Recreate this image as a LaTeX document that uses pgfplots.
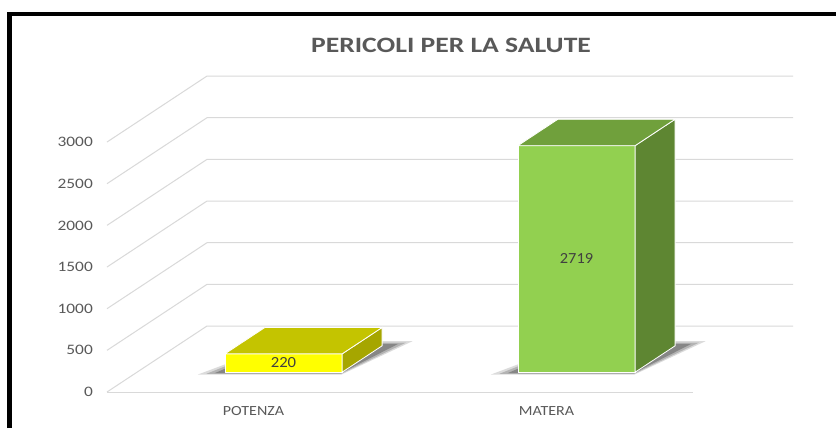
\documentclass[border=0pt]{standalone}
\usepackage{fontspec}
\setmainfont{Carlito}
\usepackage{graphicx}
\usepackage{pgfplots}
\pgfplotsset{compat=1.18}
\definecolor{gridc}{HTML}{D9D9D9}
\definecolor{tickc}{HTML}{595959}
\definecolor{datac}{HTML}{404040}
\definecolor{yfront}{HTML}{FFFF00}
\definecolor{ytop}{HTML}{C4C400}
\definecolor{yside}{HTML}{A6A600}
\definecolor{gfront}{HTML}{92D050}
\definecolor{gtop}{HTML}{70A03C}
\definecolor{gside}{HTML}{5E8632}
\begin{document}
\begin{tikzpicture}[x=1bp,y=1bp]
\useasboundingbox (0,0) rectangle (836,428);
\fill[white] (0,0) rectangle (836,428);
\begin{axis}[
  anchor=origin, at={(107bp,36bp)},
  x={(293bp,0bp)}, y={(100bp,66bp)}, z={(0bp,0.0833333bp)},
  xmin=0,xmax=2,ymin=0,ymax=1,zmin=0,zmax=3000,
  hide axis, clip=false,
  every axis plot/.append style={mark=none},
]
% grid (side wall + back wall)
\pgfplotsinvokeforeach{0,500,1000,1500,2000,2500,3000}{
  \addplot3[gridc, line width=1bp] coordinates {(0,0,#1) (0,1,#1) (2,1,#1)};
  \node[anchor=east, inner sep=0pt, text=tickc, font=\fontsize{14.5}{16}\selectfont, xshift=-14bp] at (axis cs:0,0,#1) {\scalebox{1.2}[1]{#1}};
}
% front floor line
\addplot3[gridc, line width=1bp] coordinates {(0,0,0) (2,0,0)};
% shadows (soft, layered)
\addplot3[fill=black, fill opacity=0.14, draw=none] coordinates {(0.22,0.265,0) (0.71,0.265,0) (0.78,0.77,0) (0.35,0.77,0)} -- cycle;
\addplot3[fill=black, fill opacity=0.18, draw=none] coordinates {(0.245,0.275,0) (0.705,0.275,0) (0.765,0.75,0) (0.35,0.75,0)} -- cycle;
\addplot3[fill=black, fill opacity=0.25, draw=none] coordinates {(0.27,0.285,0) (0.70,0.285,0) (0.745,0.73,0) (0.35,0.73,0)} -- cycle;
\addplot3[fill=black, fill opacity=0.14, draw=none] coordinates {(1.22,0.265,0) (1.71,0.265,0) (1.78,0.77,0) (1.35,0.77,0)} -- cycle;
\addplot3[fill=black, fill opacity=0.18, draw=none] coordinates {(1.245,0.275,0) (1.705,0.275,0) (1.765,0.75,0) (1.35,0.75,0)} -- cycle;
\addplot3[fill=black, fill opacity=0.25, draw=none] coordinates {(1.27,0.285,0) (1.70,0.285,0) (1.745,0.73,0) (1.35,0.73,0)} -- cycle;
% POTENZA = 220
\addplot3[fill=yfront, draw=white, line width=0.8bp] coordinates {(0.3,0.3,0) (0.7,0.3,0) (0.7,0.3,220) (0.3,0.3,220)} -- cycle;
\addplot3[fill=yside, draw=white, line width=0.8bp] coordinates {(0.7,0.3,0) (0.7,0.7,0) (0.7,0.7,220) (0.7,0.3,220)} -- cycle;
\addplot3[fill=ytop, draw=white, line width=0.8bp] coordinates {(0.3,0.3,220) (0.7,0.3,220) (0.7,0.7,220) (0.3,0.7,220)} -- cycle;
% MATERA = 2719
\addplot3[fill=gfront, draw=white, line width=0.8bp] coordinates {(1.3,0.3,0) (1.7,0.3,0) (1.7,0.3,2719) (1.3,0.3,2719)} -- cycle;
\addplot3[fill=gside, draw=white, line width=0.8bp] coordinates {(1.7,0.3,0) (1.7,0.7,0) (1.7,0.7,2719) (1.7,0.3,2719)} -- cycle;
\addplot3[fill=gtop, draw=white, line width=0.8bp] coordinates {(1.3,0.3,2719) (1.7,0.3,2719) (1.7,0.7,2719) (1.3,0.7,2719)} -- cycle;
% data labels
\node[text=datac, font=\fontsize{15.5}{17}\selectfont] at (axis cs:0.5,0.3,110) {\scalebox{1.08}[1]{220}};
\node[text=datac, font=\fontsize{15.5}{17}\selectfont] at (axis cs:1.5,0.3,1359.5) {\scalebox{1.06}[1]{2719}};
% category labels
\node[text=tickc, font=\fontsize{14}{16}\selectfont, yshift=-19bp] at (axis cs:0.5,0,0) {\scalebox{1.15}[1]{POTENZA}};
\node[text=tickc, font=\fontsize{14}{16}\selectfont, yshift=-19bp] at (axis cs:1.5,0,0) {\scalebox{1.15}[1]{MATERA}};
\end{axis}
\node[text=tickc, font=\fontsize{22}{26}\selectfont\bfseries] at (451,383) {\scalebox{1.26}[1]{PERICOLI PER LA SALUTE}};
\draw[line width=5bp] (9.5,0) -- (9.5,416);
\draw[line width=4bp] (7,414) -- (836,414);
\end{tikzpicture}
\end{document}
